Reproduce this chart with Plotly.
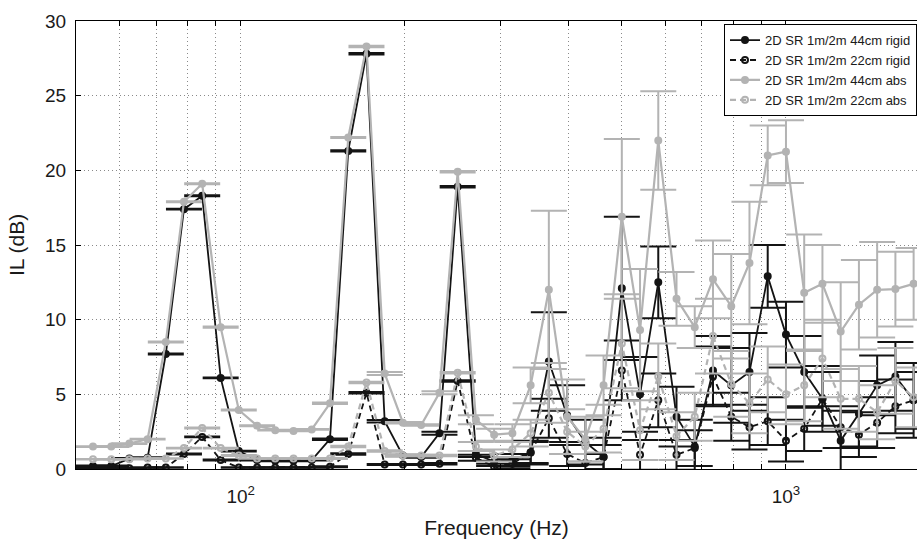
import plotly.graph_objects as go

freq = [53.6, 57.9, 62.5, 67.5, 72.9, 78.7, 85.0, 91.9, 99.2, 107.2,
        115.7, 125.0, 135.0, 145.8, 157.5, 170.1, 183.7, 198.4, 214.3, 231.5,
        250.0, 270.0, 291.6, 315.0, 340.2, 367.4, 396.9, 428.6, 462.9, 500.0,
        540.0, 583.2, 629.9, 680.3, 734.8, 793.7, 857.2, 925.8, 1000.0, 1080.1,
        1166.5, 1259.9, 1360.8, 1469.7, 1587.4, 1714.4]

il_44_rigid = [0.2, 0.2, 0.7, 0.75, 7.7, 17.4, 18.3, 6.1, 1.2,
               0.6, 0.55, 0.55, 0.6, 2.0, 21.3, 27.8, 3.2, 0.9,
               0.8, 2.4, 18.9, 1.0, 0.5, 0.6, 1.1, 7.2, 3.6,
               1.8, 0.8, 12.1, 5.0, 12.5, 3.5, 1.5, 6.6, 5.6,
               6.5, 12.9, 9.0, 6.5, 4.7, 1.9, 3.7, 5.6, 6.2, 4.6]
err_44_rigid = [0.03, 0.03, 0.03, 0.03, 0.03, 0.03, 0.03, 0.03, 0.03,
                0.03, 0.03, 0.03, 0.03, 0.05, 0.04, 0.05, 0.08, 0.05,
                0.05, 0.1, 0.05, 0.2, 0.3, 0.4, 0.8, 3.3, 2.0,
                1.5, 1.3, 4.8, 2.5, 2.4, 2.0, 1.8, 2.3, 2.5,
                2.6, 2.1, 2.2, 2.4, 2.2, 2.0, 2.2, 2.0, 2.3, 2.5]

il_22_rigid = [0.05, 0.05, 0.05, 0.1, 0.1, 1.0, 2.15, 0.6, 0.1,
               0.1, 0.1, 0.1, 0.1, 0.15, 1.0, 5.1, 0.3, 0.3,
               0.3, 0.35, 5.9, 0.75, 0.15, 0.35, 1.1, 3.4, 1.0,
               0.4, 0.8, 6.6, 0.95, 4.6, 0.95, 1.4, 6.2, 3.5,
               2.8, 3.2, 1.9, 2.7, 4.7, 2.8, 2.3, 3.1, 4.2, 4.6]
err_22_rigid = [0.02, 0.02, 0.02, 0.02, 0.02, 0.03, 0.03, 0.03, 0.02,
                0.02, 0.02, 0.02, 0.02, 0.03, 0.05, 0.05, 0.03, 0.03,
                0.03, 0.05, 0.05, 0.2, 0.2, 0.3, 0.7, 1.3, 0.8,
                0.6, 0.8, 2.0, 1.0, 1.8, 1.0, 1.2, 2.0, 1.6,
                1.5, 1.6, 1.4, 1.5, 1.8, 1.4, 1.5, 1.7, 1.8, 1.9]

il_44_abs = [1.5, 1.5, 1.7, 2.0, 8.5, 17.9, 19.1, 9.5, 3.95,
             2.9, 2.6, 2.55, 2.65, 4.4, 22.2, 28.3, 6.4, 3.1,
             2.95, 5.1, 19.9, 3.3, 2.3, 2.4, 5.6, 12.0, 3.5,
             2.0, 5.6, 16.9, 9.3, 22.0, 11.4, 9.5, 12.7, 10.9,
             13.8, 21.0, 21.25, 11.8, 12.4, 9.2, 11.0, 12.0, 12.05, 12.4]
err_44_abs = [0.03, 0.03, 0.03, 0.03, 0.03, 0.03, 0.03, 0.04, 0.03,
              0.03, 0.03, 0.03, 0.03, 0.05, 0.04, 0.05, 0.1, 0.05,
              0.05, 0.1, 0.05, 0.3, 0.4, 0.6, 1.2, 5.3, 2.5,
              1.5, 2.0, 5.2, 4.1, 3.3, 1.8, 1.4, 2.6, 3.5,
              4.1, 2.0, 2.1, 3.9, 2.6, 3.3, 3.0, 3.2, 2.5, 2.4]

il_22_abs = [0.65, 0.65, 0.65, 0.7, 0.7, 1.4, 2.75, 1.4, 0.9,
             0.7, 0.7, 0.7, 0.7, 0.7, 1.5, 5.8, 1.2, 0.9,
             0.9, 0.9, 6.45, 1.5, 0.9, 1.3, 2.4, 5.1, 2.5,
             1.5, 2.7, 8.4, 2.6, 6.2, 2.2, 3.5, 8.9, 5.7,
             4.4, 6.0, 5.0, 5.6, 7.4, 4.7, 4.7, 3.8, 5.9, 4.8]
err_22_abs = [0.02, 0.02, 0.02, 0.02, 0.02, 0.03, 0.03, 0.03, 0.03,
              0.02, 0.02, 0.02, 0.02, 0.03, 0.05, 0.05, 0.05, 0.05,
              0.05, 0.05, 0.05, 0.3, 0.4, 0.5, 0.9, 2.0, 1.5,
              1.0, 1.6, 3.0, 2.0, 2.2, 1.6, 1.6, 2.5, 2.2,
              2.0, 2.2, 2.0, 2.4, 2.6, 2.0, 2.2, 1.8, 2.2, 2.0]

names = ["2D SR 1m/2m 44cm rigid", "2D SR 1m/2m 22cm rigid",
         "2D SR 1m/2m 44cm abs", "2D SR 1m/2m 22cm abs"]

grid_vals = [60, 70, 80, 90, 100, 200, 300, 400, 500, 600, 700, 800, 900, 1000]
grid_text = ["", "", "", "", "10<sup>2</sup>", "", "", "", "", "", "", "", "", "10<sup>3</sup>"]
y_ticks = [0, 5, 10, 15, 20, 25, 30]

BLACK = "#141414"
GRAY = "#b3b3b3"

series = [
    (il_44_rigid, err_44_rigid, BLACK, "solid", "circle", 1.8),
    (il_22_rigid, err_22_rigid, BLACK, "6px,4px", "circle-open", 1.8),
    (il_44_abs, err_44_abs, GRAY, "solid", "circle", 2.2),
    (il_22_abs, err_22_abs, GRAY, "6px,4px", "circle-open", 2.2),
]

fig = go.Figure()
for (vals, errs, col, dash, sym, lw), name in zip(series, names):
    fig.add_trace(go.Scatter(
        x=freq, y=vals, name=name, mode="lines+markers",
        line=dict(color=col, width=lw, dash=dash),
        marker=dict(symbol=sym, size=6, color=col, line=dict(color=col, width=2)),
        error_y=dict(type="data", array=errs, visible=True, color=col,
                     thickness=2, width=18),
    ))

fig.update_layout(
    width=917, height=540,
    margin=dict(l=76, r=0, t=21, b=71),
    paper_bgcolor="white", plot_bgcolor="white",
    font=dict(family="Liberation Sans, Arial, sans-serif", color="#1a1a1a", size=19),
    showlegend=True,
    legend=dict(x=1, xanchor="right", y=0.993, yanchor="top",
                bgcolor="white", bordercolor="black", borderwidth=1,
                font=dict(size=13), itemwidth=30, tracegroupgap=0),
)
fig.update_xaxes(
    type="log", range=[1.698, 3.2403],
    tickmode="array", tickvals=grid_vals, ticktext=grid_text,
    ticks="inside", ticklen=5, tickcolor="black",
    showline=True, linecolor="black", linewidth=1, mirror="ticks",
    showgrid=True, gridcolor="#8a8a8a", gridwidth=1, griddash="1px,3px",
    zeroline=False, ticklabelstandoff=10,
    title=dict(text="Frequency (Hz)", font=dict(size=21), standoff=14),
)
fig.update_yaxes(
    range=[0, 30], tickmode="array", tickvals=y_ticks,
    ticks="inside", ticklen=5, tickcolor="black",
    showline=True, linecolor="black", linewidth=1, mirror=False,
    showgrid=True, gridcolor="#8a8a8a", gridwidth=1, griddash="1px,3px",
    zeroline=False, ticklabelstandoff=5,
    title=dict(text="IL (dB)", font=dict(size=21), standoff=14),
)

fig.write_html("out.html")
